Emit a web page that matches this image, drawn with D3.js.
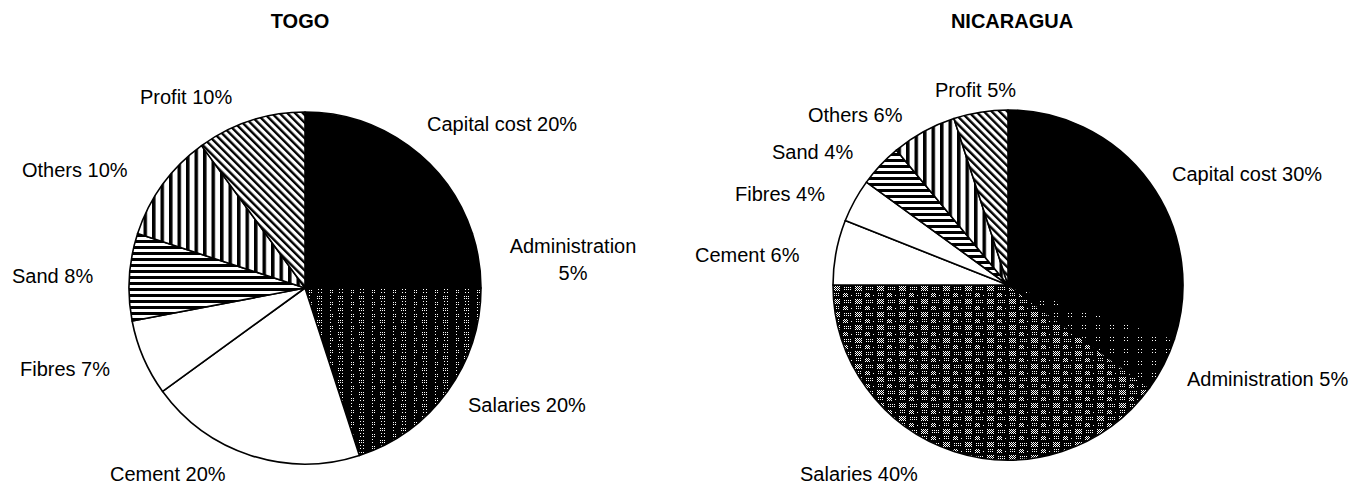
<!DOCTYPE html>
<html>
<head>
<meta charset="utf-8">
<script src="https://cdn.jsdelivr.net/npm/d3@7"></script>
<style>
  html, body { margin: 0; padding: 0; background: #fff; }
  svg { display: block; }
  text { font-family: "Liberation Sans", Arial, Helvetica, sans-serif; fill: #000; }
</style>
</head>
<body>
<svg id="chart" width="1368" height="486"></svg>
<script>
// Cost breakdown categories (clockwise from 12 o'clock)
const categories = ["Capital cost", "Administration", "Salaries", "Cement", "Fibres", "Sand", "Others", "Profit"];
// Share of total cost, percent
const togoValues = [20, 5, 20, 20, 7, 8, 10, 10];
const nicaraguaValues = [30, 5, 40, 6, 4, 4, 6, 5];
const chartTitles = ["TOGO", "NICARAGUA"];

const svg = d3.select("#chart");
svg.append("rect").attr("width", 1368).attr("height", 486).attr("fill", "#fff");

const defs = svg.append("defs");

// fine halftones used inside the plaid textures
const checker = defs.append("pattern").attr("id", "checker")
  .attr("width", 2).attr("height", 2).attr("patternUnits", "userSpaceOnUse");
checker.append("rect").attr("x", 0).attr("y", 0).attr("width", 1).attr("height", 1).attr("fill", "#fff");
checker.append("rect").attr("x", 1).attr("y", 1).attr("width", 1).attr("height", 1).attr("fill", "#fff");

const sparse = defs.append("pattern").attr("id", "sparse")
  .attr("width", 2).attr("height", 2).attr("patternUnits", "userSpaceOnUse");
sparse.append("rect").attr("x", 0).attr("y", 0).attr("width", 1).attr("height", 1).attr("fill", "#fff");

const thin = defs.append("pattern").attr("id", "thin")
  .attr("width", 3).attr("height", 3).attr("patternUnits", "userSpaceOnUse");
thin.append("rect").attr("x", 1).attr("y", 1).attr("width", 1).attr("height", 1).attr("fill", "#fff");

// plaid of halftone cells on black
function plaid(id, w, h, cells) {
  const p = defs.append("pattern").attr("id", id)
    .attr("width", w).attr("height", h).attr("patternUnits", "userSpaceOnUse")
    .attr("shape-rendering", "crispEdges");
  p.append("rect").attr("width", w).attr("height", h).attr("fill", "#000");
  cells.forEach(c => p.append("rect")
    .attr("x", c[0]).attr("y", c[1]).attr("width", c[2]).attr("height", c[3])
    .attr("fill", `url(#${c[4] || "sparse"})`));
}
plaid("plaidDark", 21, 12, [[3, 1, 5, 4], [11, 1, 7, 4, "thin"], [3, 7, 3, 4, "thin"], [11, 7, 6, 4]]);
plaid("plaidLight", 22, 13, [[1, 1, 7, 5, "checker"], [11, 1, 8, 5], [1, 8, 7, 4], [11, 8, 5, 4, "checker"], [17, 8, 3, 4, "thin"]]);

// scattered white specks on black
const adminDots = defs.append("pattern").attr("id", "adminDots")
  .attr("width", 14).attr("height", 12).attr("patternUnits", "userSpaceOnUse")
  .attr("shape-rendering", "crispEdges");
adminDots.append("rect").attr("width", 14).attr("height", 12).attr("fill", "#000");
adminDots.append("rect").attr("x", 3).attr("y", 3).attr("width", 6).attr("height", 6).attr("fill", "url(#thin)");

// line hatches
function stripes(id, period, thick, rotate) {
  const p = defs.append("pattern").attr("id", id)
    .attr("width", period).attr("height", period).attr("patternUnits", "userSpaceOnUse")
    .attr("patternTransform", `rotate(${rotate})`);
  p.append("rect").attr("width", period).attr("height", period).attr("fill", "#fff");
  p.append("rect").attr("x", 0).attr("y", 0).attr("width", thick).attr("height", period).attr("fill", "#000");
}
stripes("hVert", 8.5, 3.5, 0);    // vertical bars
stripes("hHoriz", 6, 3, 90);      // horizontal bars
stripes("hDiag", 5.5, 2.4, -45);  // "\" diagonal bars

const fillsFor = (salaryFill, adminFill) => ({
  "Capital cost": "#000",
  "Administration": adminFill,
  "Salaries": salaryFill,
  "Cement": "#fff",
  "Fibres": "#fff",
  "Sand": "url(#hHoriz)",
  "Others": "url(#hVert)",
  "Profit": "url(#hDiag)"
});

// layout: pie centre/radius, title position and label anchors (x, baseline y, anchor)
const layouts = [
  {
    cx: 305, cy: 288, r: 176, titleX: 300, titleY: 28,
    salary: "url(#plaidDark)", admin: "#000",
    labels: {
      "Capital cost": [427, 131, "start"],
      "Administration": [573, 253, "middle", true],
      "Salaries": [468, 412, "start"],
      "Cement": [110, 481, "start"],
      "Fibres": [20, 376, "start"],
      "Sand": [12, 283, "start"],
      "Others": [22, 177, "start"],
      "Profit": [140, 104, "start"]
    }
  },
  {
    cx: 1008, cy: 285, r: 175, titleX: 1012, titleY: 28,
    salary: "url(#plaidLight)", admin: "url(#adminDots)",
    labels: {
      "Capital cost": [1172, 181, "start"],
      "Administration": [1187, 386, "start"],
      "Salaries": [800, 481, "start"],
      "Cement": [695, 262, "start"],
      "Fibres": [735, 201, "start"],
      "Sand": [772, 159, "start"],
      "Others": [808, 122, "start"],
      "Profit": [935, 97, "start"]
    }
  }
];

const pie = d3.pie().sort(null).value(d => d.value);

[togoValues, nicaraguaValues].forEach((vals, i) => {
  const L = layouts[i];
  const data = categories.map((c, k) => ({ category: c, value: vals[k] }));
  const fills = fillsFor(L.salary, L.admin);
  const arc = d3.arc().innerRadius(0).outerRadius(L.r);

  const g = svg.append("g").attr("transform", `translate(${L.cx},${L.cy})`);
  g.selectAll("path.slice").data(pie(data)).join("path")
    .attr("class", "slice")
    .attr("d", arc)
    .attr("fill", d => fills[d.data.category])
    .attr("stroke", "#000")
    .attr("stroke-width", 1.6)
    .attr("stroke-linejoin", "round");

  svg.append("text")
    .attr("x", L.titleX).attr("y", L.titleY)
    .attr("text-anchor", "middle")
    .attr("font-size", 20).attr("font-weight", "bold")
    .text(chartTitles[i]);

  data.forEach(d => {
    const [x, y, anchor, twoLines] = L.labels[d.category];
    const t = svg.append("text")
      .attr("x", x).attr("y", y)
      .attr("text-anchor", anchor)
      .attr("font-size", 20);
    if (twoLines) {
      t.text(d.category);
      svg.append("text").attr("x", x).attr("y", y + 27)
        .attr("text-anchor", anchor).attr("font-size", 20)
        .text(`${d.value}%`);
    } else {
      t.text(`${d.category} ${d.value}%`);
    }
  });
});
</script>
</body>
</html>
